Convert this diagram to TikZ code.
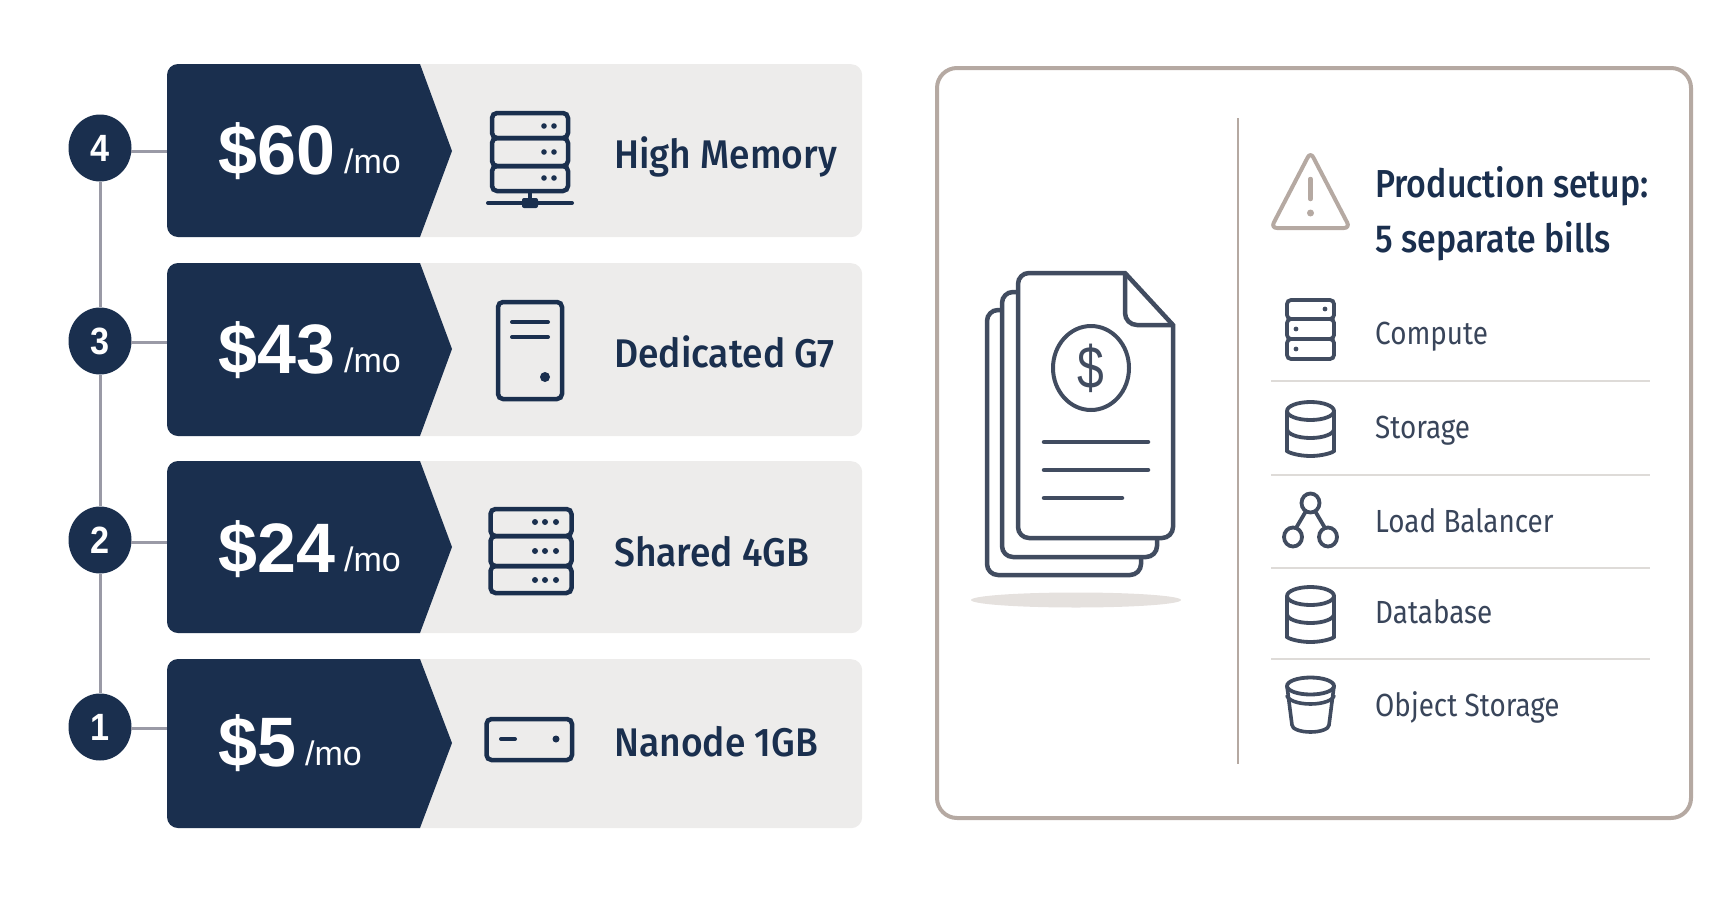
\documentclass[tikz,border=0pt]{standalone}
\usepackage{fontspec}
\usepackage{xcolor}
\usepackage{tikz}
\usetikzlibrary{shapes.geometric}
\setmainfont{Liberation Sans}
\newfontfamily\tierfont{Fira Sans}[BoldFont={Fira Sans Medium},FakeStretch=0.93]
\newfontfamily\listfont{Fira Sans}[BoldFont={Fira Sans Medium},FakeStretch=0.87]
\newfontfamily\digitfont{Liberation Sans}[FakeStretch=0.9]
\newfontfamily\dollarfont{Liberation Sans}[FakeStretch=0.8]
\definecolor{navy}{HTML}{1A2F4E}
\definecolor{cardgray}{HTML}{EDECEB}
\definecolor{slategray}{HTML}{414C60}
\definecolor{itemtext}{HTML}{39455A}
\definecolor{taupe}{HTML}{B5A9A2}
\definecolor{rulegray}{HTML}{DEDBD8}
\definecolor{linkgray}{HTML}{9A9AA6}
\definecolor{shadowgray}{HTML}{E5E1DE}

\begin{document}
\begin{tikzpicture}[x=1pt,y=-1pt,
	card/.style={rectangle, rounded corners=11, fill=cardgray, inner sep=0, anchor=north west, minimum width=695},
	badge/.style={ellipse, fill=navy, inner sep=0, minimum width=63, minimum height=67, text=white, font=\digitfont\fontsize{38}{38}\selectfont\bfseries},
	price/.style={anchor=base west, inner sep=0, text=white, font=\fontsize{70}{70}\selectfont\bfseries},
	permonth/.style={anchor=base west, inner sep=0, text=white, font=\fontsize{34}{34}\selectfont},
	tier/.style={anchor=base west, inner sep=0, text=navy, font=\tierfont\fontsize{40}{40}\selectfont\bfseries},
	heading/.style={anchor=base west, inner sep=0, text=navy, font=\listfont\fontsize{39}{39}\selectfont\bfseries},
	item/.style={anchor=base west, inner sep=0, text=itemtext, font=\listfont\fontsize{32}{32}\selectfont},
	link/.style={draw=linkgray, line width=3},
	icon/.style={draw=navy, line width=4.5, rounded corners=5},
	lineicon/.style={draw=slategray, line width=3.8, rounded corners=4},
	sheet/.style={draw=slategray, line width=4.5, fill=white},
	]
	\useasboundingbox (0,0) rectangle (1729,910);
	
	% Cards
	\node[card, minimum height=173] (c4) at (167,64) {};
	\node[card, minimum height=173] (c3) at (167,263) {};
	\node[card, minimum height=172] (c2) at (167,461) {};
	\node[card, minimum height=169] (c1) at (167,659) {};
	
	\fill[navy] (300,64) [sharp corners] -- (420,64) -- (452,151) -- (420,237) -- (300,237) [rounded corners=11] -- (167,237) -- (167,64) -- cycle;
	\fill[navy] (300,263) [sharp corners] -- (420,263) -- (452,349) -- (420,436) -- (300,436) [rounded corners=11] -- (167,436) -- (167,263) -- cycle;
	\fill[navy] (300,461) [sharp corners] -- (420,461) -- (452,547) -- (420,633) -- (300,633) [rounded corners=11] -- (167,633) -- (167,461) -- cycle;
	\fill[navy] (300,659) [sharp corners] -- (420,659) -- (452,743) -- (420,828) -- (300,828) [rounded corners=11] -- (167,828) -- (167,659) -- cycle;
	
	% Badges
	\node[badge] (b4) at (100,148) {4};
	\node[badge] (b3) at (100,341) {3};
	\node[badge] (b2) at (100,540) {2};
	\node[badge] (b1) at (100,727) {1};
	
	\coordinate (k4) at (131,151);
	\coordinate (k3) at (131,342);
	\coordinate (k2) at (131,542);
	\coordinate (k1) at (131,728);
	
	\draw[link] (b4.south) -- (b3.north);
	\draw[link] (b3.south) -- (b2.north);
	\draw[link] (b2.south) -- (b1.north);
	\draw[link] (k4) -- (k4 -| c4.west);
	\draw[link] (k3) -- (k3 -| c3.west);
	\draw[link] (k2) -- (k2 -| c2.west);
	\draw[link] (k1) -- (k1 -| c1.west);
	
	% Prices
	\node[price] (p4) at (218,174) {\$60};
	\node[permonth] (m4) at (344,173) {/mo};
	\node[price] (p3) at (218,373) {\$43};
	\node[permonth] (m3) at (344,372) {/mo};
	\node[price] (p2) at (218,572) {\$24};
	\node[permonth] (m2) at (344,571) {/mo};
	\node[price] (p1) at (218,766) {\$5};
	\node[permonth] (m1) at (305,765) {/mo};
	
	% Tier names
	\node[tier] (t4) at (614,168) {High Memory};
	\node[tier] (t3) at (614,367) {Dedicated G7};
	\node[tier] (t2) at (614,566) {Shared 4GB};
	\node[tier] (t1) at (614,756) {Nanode 1GB};
	
	% Tier icons
	\draw[icon] (492,113) rectangle (568,138);
	\draw[icon] (492,138) rectangle (568,166);
	\draw[icon] (492,166) rectangle (568,191);
	\fill[navy] (544,126) circle (2.8) (554,126) circle (2.8) (544,152) circle (2.8) (554,152) circle (2.8) (544,178) circle (2.8) (554,178) circle (2.8);
	\draw[navy, line width=4] (530,191) -- (530,203);
	\draw[navy, line width=4, line cap=round] (488,203) -- (572,203);
	\fill[navy, rounded corners=2] (522,198) rectangle (538,208);
	
	\draw[icon] (498,302) rectangle (562,399);
	\draw[navy, line width=4, line cap=round] (512,322) -- (548,322);
	\draw[navy, line width=4, line cap=round] (512,337) -- (548,337);
	\fill[navy] (545,377) circle (5);
	
	\draw[icon] (490.5,509) rectangle (571.5,536);
	\draw[icon] (490.5,536) rectangle (571.5,566);
	\draw[icon] (490.5,566) rectangle (571.5,593);
	\fill[navy] (535,522) circle (3) (545,522) circle (3) (556,522) circle (3) (535,551) circle (3) (545,551) circle (3) (556,551) circle (3) (535,580) circle (3) (545,580) circle (3) (556,580) circle (3);
	
	\draw[icon] (486.5,719) rectangle (572,760);
	\draw[navy, line width=4, line cap=round] (501,739) -- (515,739);
	\fill[navy] (556,739) circle (3.5);
	
	% Panel
	\draw[draw=taupe, line width=4, rounded corners=20] (937,68) rectangle (1691,818);
	\draw[draw=taupe, line width=2] (1238,118) -- (1238,764);
	
	% Bills
	\fill[shadowgray] (1076,600) ellipse [x radius=105, y radius=7.5];
	\draw[sheet, rounded corners=11] (1040,310) -- (987,310) -- (987,575) -- (1141,575) -- (1141,520);
	\draw[sheet, rounded corners=11] (1040,292) -- (1002,292) -- (1002,557) -- (1157,557) -- (1157,500);
	\draw[sheet] (1125,273) [rounded corners=11] -- (1018,273) -- (1018,538) -- (1173,538) [sharp corners] -- (1173,325) -- cycle;
	\draw[draw=slategray, line width=4.5, rounded corners=12] (1125,273) -- (1125,325) -- (1173,325);
	\draw[draw=slategray, line width=4] (1091,368) ellipse [x radius=38, y radius=42];
	\node[inner sep=0, text=slategray, font=\dollarfont\fontsize{60}{60}\selectfont] (dollar) at (1091,368) {\$};
	\draw[draw=slategray, line width=4.5, line cap=round] (1044,442) -- (1148,442);
	\draw[draw=slategray, line width=4.5, line cap=round] (1044,470) -- (1148,470);
	\draw[draw=slategray, line width=4.5, line cap=round] (1044,498) -- (1122,498);
	
	% Warning
	\draw[draw=taupe, line width=4, rounded corners=6, line join=round] (1310.5,152) -- (1350,228) -- (1271,228) -- cycle;
	\draw[draw=taupe, line width=4.5, line cap=round] (1310.5,179) -- (1310.5,199);
	\fill[taupe] (1310.5,213) circle (3.5);
	
	% Heading and list
	\node[heading] (h1) at (1375,197) {Production setup:};
	\node[heading] (h2) at (1375,252) {5 separate bills};
	\node[item] (i1) at (1375,344) {Compute};
	\node[item] (i2) at (1375,438) {Storage};
	\node[item] (i3) at (1375,532) {Load Balancer};
	\node[item] (i4) at (1375,623) {Database};
	\node[item] (i5) at (1375,716) {Object Storage};
	
	\draw[draw=rulegray, line width=2.5] (1271,381) -- (1650,381);
	\draw[draw=rulegray, line width=2.5] (1271,475) -- (1650,475);
	\draw[draw=rulegray, line width=2.5] (1271,568) -- (1650,568);
	\draw[draw=rulegray, line width=2.5] (1271,659) -- (1650,659);
	
	% Item icons
	\draw[lineicon] (1287,300) rectangle (1334,319);
	\draw[lineicon] (1287,319) rectangle (1334,339);
	\draw[lineicon] (1287,339) rectangle (1334,359);
	\fill[slategray] (1325,309) circle (2.4) (1296,329) circle (2.4) (1296,349) circle (2.4);
	
	\draw[lineicon] (1310.5,411) ellipse [x radius=23.5, y radius=9];
	\draw[lineicon] (1287,411) -- (1287,447) arc[start angle=180, end angle=0, x radius=23.5, y radius=9] -- (1334,411);
	\draw[lineicon] (1287,429) arc[start angle=180, end angle=0, x radius=23.5, y radius=9];
	
	\draw[lineicon] (1310.5,503) ellipse [x radius=9, y radius=9.5];
	\draw[lineicon] (1293,537) ellipse [x radius=9, y radius=9.5];
	\draw[lineicon] (1328,537) ellipse [x radius=9, y radius=9.5];
	\draw[lineicon] (1306,511) -- (1296,528);
	\draw[lineicon] (1315,511) -- (1325,528);
	
	\draw[lineicon] (1310.5,596) ellipse [x radius=23.5, y radius=9];
	\draw[lineicon] (1287,596) -- (1287,633) arc[start angle=180, end angle=0, x radius=23.5, y radius=9] -- (1334,596);
	\draw[lineicon] (1287,614) arc[start angle=180, end angle=0, x radius=23.5, y radius=9];
	
	\draw[lineicon] (1310.5,686) ellipse [x radius=23.5, y radius=8.5];
	\draw[draw=slategray, line width=3.6] (1287,695) arc[start angle=180, end angle=0, x radius=23.5, y radius=9];
	\draw[draw=slategray, line width=3.6] (1287,686) -- (1292,725) arc[start angle=180, end angle=0, x radius=18.5, y radius=7] -- (1334,686);
	
\end{tikzpicture}
\end{document}
